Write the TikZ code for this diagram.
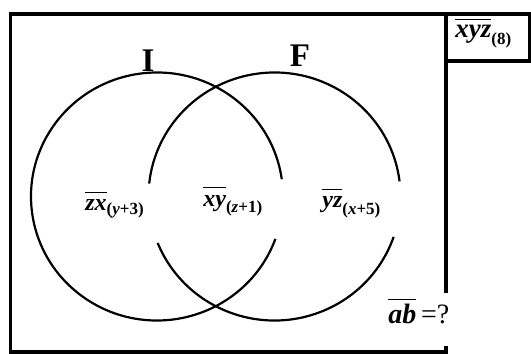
\documentclass[tikz,border=0pt]{standalone}
\usepackage{fontspec}
\setmainfont{Liberation Serif}

\begin{document}
\begin{tikzpicture}[
    x=0.5pt, y=0.5pt,
    % Line and text styles
    frameline/.style={line width=1.7pt, draw=black},
    setline/.style={line width=1.1pt, draw=black},
    setname/.style={font=\fontsize{16.5}{18}\selectfont\bfseries, inner sep=0pt},
    regionlabel/.style={font=\fontsize{12}{14}\selectfont\bfseries, inner sep=0pt},
    asklabel/.style={font=\fontsize{14}{16}\selectfont, inner sep=0pt},
]
\useasboundingbox (0,0) rectangle (531,354);

% ============ Universe frame and base box ============
\coordinate (gapTop) at (446,61);
\coordinate (gapBot) at (446,8);
\draw[frameline] (gapTop) -- (446,340) -- (10.5,340) -- (10.5,2) -- (446,2) -- (gapBot);
\draw[frameline] (446,340) -- (529.5,340) -- (529.5,293) -- (446,293);

\node[regionlabel, font=\fontsize{13.5}{16}\selectfont\bfseries, anchor=base west] (base) at (455,316)
    {$\overline{\mbox{\itshape xyz\rule{0pt}{0.6em}}}_{\mbox{\fontsize{8.5}{9}\selectfont(8)}}$};

% ============ Sets I and F ============
\coordinate (centerI) at (157,157.5);
\coordinate (centerF) at (274.5,157.5);

\draw[setline] (centerI) ++(8:126 and 124)
    arc[start angle=8, end angle=340, x radius=126, y radius=124];
\draw[setline] (centerF) ++(7:126 and 124)
    arc[start angle=7, end angle=174, x radius=126, y radius=124];
\draw[setline] (centerF) ++(202:126 and 124)
    arc[start angle=202, end angle=341, x radius=126, y radius=124];

\node[setname, anchor=base] (nameI) at (148,282) {I};
\node[setname, anchor=base] (nameF) at (300,287) {F};

% ============ Region labels ============
\node[regionlabel, anchor=base west] (onlyI) at (85,143)
    {$\overline{\mbox{\itshape zx\rule{0pt}{0.65em}}}_{\mbox{\fontsize{8.5}{9}\selectfont(\textit{y}+3)}}$};
\node[regionlabel, anchor=base west] (both) at (203,148)
    {$\overline{\mbox{\itshape xy\rule{0pt}{0.65em}}}_{\mbox{\fontsize{8.5}{9}\selectfont(\textit{z}+1)}}$};
\node[regionlabel, anchor=base west] (onlyF) at (322,146)
    {$\overline{\mbox{\itshape yz\rule{0pt}{0.65em}}}_{\mbox{\fontsize{8.5}{9}\selectfont(\textit{x}+5)}}$};

% ============ Question ============
\node[asklabel, anchor=base west] (ask) at (388,31)
    {$\overline{\mbox{\bfseries\itshape ab\rule{0pt}{0.75em}}}$\,=?};

\end{tikzpicture}
\end{document}
